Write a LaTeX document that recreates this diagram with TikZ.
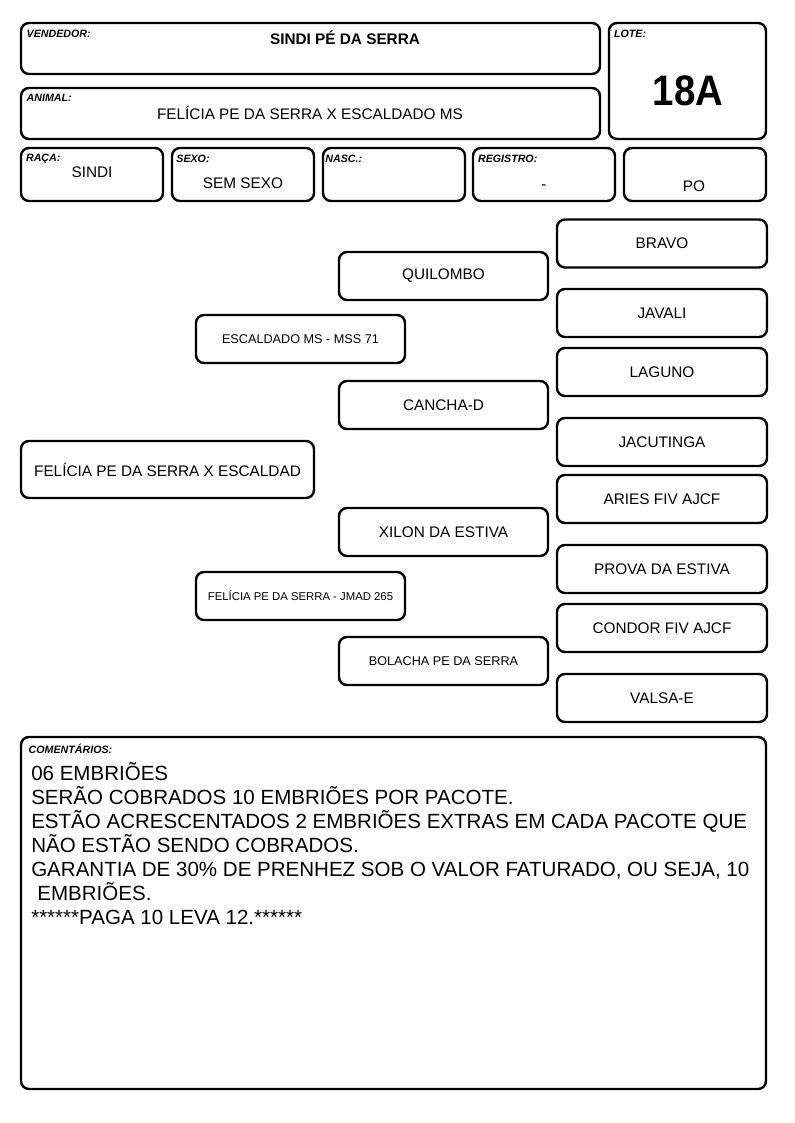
\documentclass[tikz,border=0pt]{standalone}
\usepackage{fontspec}
\setmainfont{Liberation Sans}
\usetikzlibrary{positioning}

\begin{document}
\begin{tikzpicture}[
                    x=0.75pt,
                    y=-0.75pt,
                    field/.style={
                        rectangle,
                        draw=black,
                        line width=1.8pt,
                        rounded corners=6pt,
                        inner sep=0pt
                    },
                    fieldname/.style={
                        inner sep=0pt,
                        font=\fontsize{8}{9}\selectfont\bfseries\itshape
                    },
                    value/.style={
                        inner sep=0pt,
                        font=\fontsize{11.5}{13}\selectfont
                    },
                    ancestor/.style={
                        field,
                        align=center,
                        minimum height=36pt,
                        font=\fontsize{11.5}{13}\selectfont
                    }
                ]
                \useasboundingbox (0,0) rectangle (794,1123);
                \newcommand{\mkfield}[5]{
                    \node (#1) [field, minimum width=#4*0.75pt, minimum height=#5*0.75pt] at (#2,#3) {};
                }
                \newcommand{\mkanimal}[6]{
                    \node (#1) [ancestor, minimum width=#4*0.75pt, #6] at (#2,#3) {#5};
                }
                \mkfield{vendedor}{310.5}{48.5}{579}{51}
                \mkfield{lote}{687.5}{81}{157}{116}
                \mkfield{animal}{310.5}{113.5}{579}{51}
                \mkfield{raca}{92}{174.5}{142}{53}
                \mkfield{sexo}{243}{174.5}{142}{53}
                \mkfield{nasc}{394}{174.5}{142}{53}
                \mkfield{registro}{544}{174.5}{142}{53}
                \mkfield{categoria}{695}{174.5}{142}{53}

                \node (vendedorlbl) [fieldname, below right=6pt and 5pt of vendedor.north west] {VENDEDOR:};
                \node (lotelbl) [fieldname, below right=6pt and 4.5pt of lote.north west] {LOTE:};
                \node (animallbl) [fieldname, below right=5.5pt and 5pt of animal.north west] {ANIMAL:};
                \node (racalbl) [fieldname, below right=5.5pt and 4.5pt of raca.north west] {RAÇA:};
                \node (sexolbl) [fieldname, below right=6pt and 4pt of sexo.north west] {SEXO:};
                \node (nasclbl) [fieldname, below right=6pt and 2.5pt of nasc.north west] {NASC.:};
                \node (registrolbl) [fieldname, below right=6pt and 4.5pt of registro.north west] {REGISTRO:};

                \node (vendedorval) [value, font=\fontsize{11.5}{13}\selectfont\bfseries] at (345,38) {SINDI PÉ DA SERRA};
                \node (loteval) [value, font=\fontsize{32}{36}\selectfont\bfseries] at (688,91) {\scalebox{0.9}[1]{18A}};
                \node (animalval) [value] at (310,113) {FELÍCIA PE DA SERRA X ESCALDADO MS};
                \node (racaval) [value] at (92,172) {SINDI};
                \node (sexoval) [value] at (243,183) {SEM SEXO};
                \node (registroval) [value] at (544,187) {-};
                \node (categoriaval) [value] at (694,186) {PO};

                % bisavos
                \mkanimal{bravo}{662}{243.5}{210}{BRAVO}{}
                \mkanimal{javali}{662}{313}{210}{JAVALI}{}
                \mkanimal{laguno}{662}{372}{210}{LAGUNO}{}
                \mkanimal{jacutinga}{662}{442}{210}{JACUTINGA}{}
                \mkanimal{aries}{662}{499}{210}{ARIES FIV AJCF}{}
                \mkanimal{prova}{662}{569}{210}{PROVA DA ESTIVA}{}
                \mkanimal{condor}{662}{628}{210}{CONDOR FIV AJCF}{}
                \mkanimal{valsa}{662}{698}{210}{VALSA-E}{}

                % avos
                \mkanimal{quilombo}{443.5}{276}{209}{QUILOMBO}{}
                \mkanimal{cancha}{443.5}{405}{209}{CANCHA-D}{}
                \mkanimal{xilon}{443.5}{532}{209}{XILON DA ESTIVA}{}
                \mkanimal{bolacha}{443.5}{661}{209}{BOLACHA PE DA SERRA}{font=\fontsize{9.5}{11}\selectfont}

                % pais
                \mkanimal{pai}{300.5}{339}{209}{ESCALDADO MS - MSS 71}{font=\fontsize{9.5}{11}\selectfont}
                \mkanimal{mae}{300.5}{596}{209}{FELÍCIA PE DA SERRA - JMAD 265}{font=\fontsize{8.5}{10}\selectfont}

                \mkanimal{produto}{167.5}{469.5}{293}{FELÍCIA PE DA SERRA X ESCALDAD}{minimum height=42.75pt}

                \mkfield{comentarios}{393.5}{913}{745}{352}
                \node (comentarioslbl) [fieldname, below right=6pt and 6.5pt of comentarios.north west] {COMENTÁRIOS:};
                \node (obs) [anchor=north west, align=left, inner sep=0pt, font=\fontsize{15.4}{18}\selectfont] at (31,762) {06 EMBRIÕES\\SERÃO COBRADOS 10 EMBRIÕES POR PACOTE.\\ESTÃO ACRESCENTADOS 2 EMBRIÕES EXTRAS EM CADA PACOTE QUE\\NÃO ESTÃO SENDO COBRADOS.\\GARANTIA DE 30\% DE PRENHEZ SOB O VALOR FATURADO, OU SEJA, 10\\\hspace{0.3em}EMBRIÕES.\\******PAGA 10 LEVA 12.******};
            \end{tikzpicture}
\end{document}
